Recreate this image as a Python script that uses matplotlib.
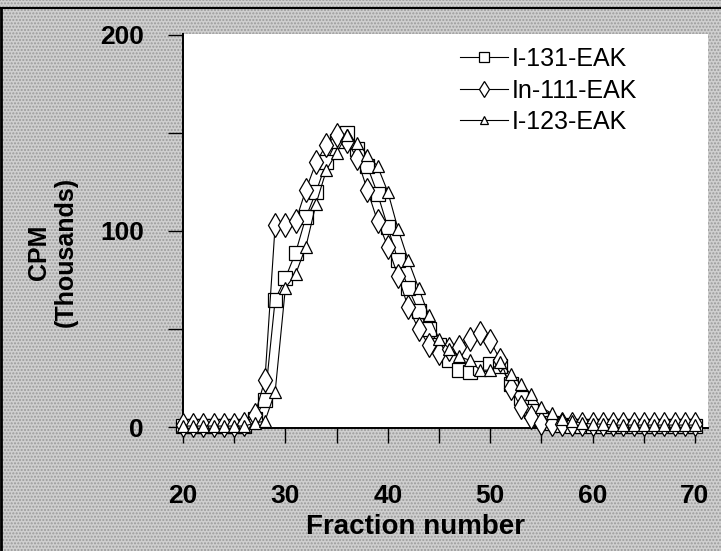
import matplotlib
matplotlib.use("Agg")
import matplotlib.pyplot as plt
from matplotlib.lines import Line2D
from matplotlib.patches import Rectangle
from matplotlib.ticker import MultipleLocator

plt.rcParams['font.family'] = ['Liberation Sans', 'DejaVu Sans']
plt.rcParams['hatch.linewidth'] = 1.0

# Fraction numbers 20..70, one value per fraction (CPM in thousands)
fractions = list(range(20, 71))

i131 = [0.5, 0.5, 0.5, 0.5, 0.5, 0.5, 0.5, 4, 14, 65,
        76, 89, 107, 120, 135, 146, 150, 142, 133, 119,
        102, 85, 71, 59, 50, 42, 34, 29, 28, 30,
        32, 31, 22, 15, 8, 4, 2, 1, 0.5, 0.5,
        0.5, 0.5, 0.5, 0.5, 0.5, 0.5, 0.5, 0.5, 0.5, 0.5,
        0.5]

in111 = [1, 1, 1, 1, 1, 1, 1.5, 6, 24, 103,
         103, 105, 121, 135, 144, 149, 146, 137, 121, 105,
         92, 77, 61, 50, 42, 38, 40, 41, 45, 48,
         44, 34, 20, 10, 5, 2, 1.5, 1.5, 1.5, 1.5,
         1.5, 1.5, 1.5, 1.5, 1.5, 1.5, 1.5, 1.5, 1.5, 1.5,
         1.5]

i123 = [0.5, 0.5, 0.5, 0.5, 0.5, 0.5, 0.5, 2, 3, 18,
        71, 78, 92, 114, 131, 140, 149, 145, 139, 133,
        120, 101, 85, 71, 57, 45, 40, 36, 34, 29,
        29, 33, 27, 22, 17, 10, 7, 4, 3, 2,
        1.5, 1.5, 1, 1, 1, 1, 1, 1, 1, 1,
        1]

labels = ["I-131-EAK", "In-111-EAK", "I-123-EAK"]

fig = plt.figure(figsize=(7.21, 5.51), dpi=100)
fig.patch.set_facecolor('#cfcfcf')

# halftone-looking backdrop of the scanned page
fig.add_artist(Rectangle((0, 0), 1, 1, transform=fig.transFigure, facecolor='#cfcfcf',
                         edgecolor='#9a9a9a', hatch='.....', lw=0, zorder=-10))

# thin black frame lines along the left and top edge of the scanned figure
fig.add_artist(Line2D([0.002, 0.002], [0, 0.985], color='black', lw=2, transform=fig.transFigure))
fig.add_artist(Line2D([0.002, 1.0], [0.985, 0.985], color='black', lw=1.5, transform=fig.transFigure))

ax = fig.add_axes([183 / 721, 1 - 428 / 551, (708 - 183) / 721, (428 - 34) / 551])
ax.set_facecolor('white')

style = dict(color='black', lw=0.8, markerfacecolor='white', markeredgecolor='black',
             markeredgewidth=0.9, clip_on=False, zorder=3)
ax.plot(fractions, i131, marker='s', markersize=10, label=labels[0], **style)
ax.plot(fractions, in111, marker='d', markersize=12, label=labels[1], **style)
ax.plot(fractions, i123, marker='^', markersize=8, label=labels[2], **style)

ax.set_xlim(20, 71.27)
ax.set_ylim(-0.5, 200.5)
ax.xaxis.set_major_locator(MultipleLocator(10))
ax.xaxis.set_minor_locator(MultipleLocator(5))
ax.yaxis.set_major_locator(MultipleLocator(100))
ax.yaxis.set_minor_locator(MultipleLocator(50))

for side in ('top', 'right'):
    ax.spines[side].set_visible(False)
for side in ('left', 'bottom'):
    ax.spines[side].set_linewidth(1.4)

ax.tick_params(which='both', direction='out', length=11, width=1, color='black')
ax.tick_params(axis='x', which='major', pad=29)
ax.tick_params(axis='y', which='major', pad=17)
for lab in ax.get_xticklabels() + ax.get_yticklabels():
    lab.set_fontsize(19)
    lab.set_fontweight('bold')

fig.text(416 / 721, 1 - 527 / 551, "Fraction number", fontsize=20, fontweight='bold',
         ha='center', va='center')
fig.text(52 / 721, 1 - 252 / 551, "CPM\n(Thousands)", fontsize=18, fontweight='bold',
         rotation=90, ha='center', va='center', multialignment='center', linespacing=1.15)

leg = ax.legend(loc='upper left', bbox_to_anchor=(460 / 721, 1 - 47 / 551),
                bbox_transform=fig.transFigure, frameon=False, fontsize=18,
                handlelength=1.9, handletextpad=0.15, labelspacing=0.3,
                borderpad=0, borderaxespad=0, markerscale=0.7)

fig.savefig("out.png", dpi=100, facecolor=fig.get_facecolor())
